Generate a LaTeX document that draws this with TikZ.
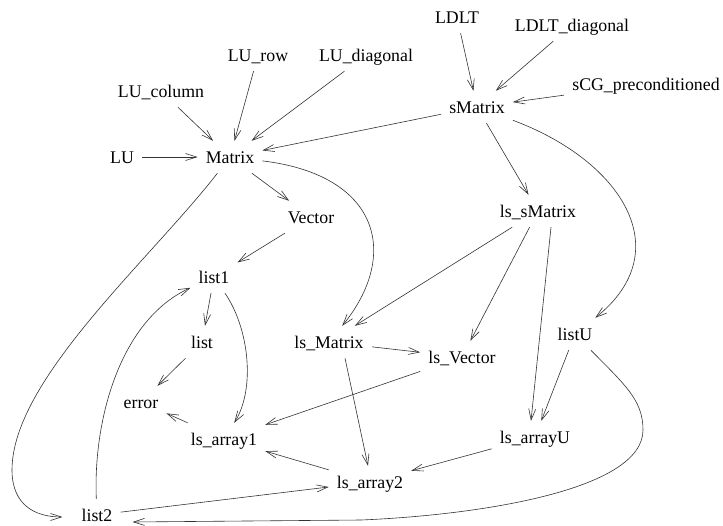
\documentclass[tikz,border=0pt]{standalone}
\usepackage{fontspec}
\setmainfont{Liberation Serif}
\usetikzlibrary{arrows.meta}
\begin{document}
\begin{tikzpicture}[x=1pt,y=-1pt,
  nd/.style={font=\fontsize{17.8}{20}\selectfont, inner xsep=8pt, inner ysep=10pt, text height=12pt, text depth=0pt},
  edge/.style={draw=black!80, line width=0.6pt, -{Straight Barb[length=11pt,width=7pt]}}]
\useasboundingbox (0,0) rectangle (723,525);
% nodes
\node[nd] (LDLT) at (457,17) {LDLT};
\node[nd] (LDLTd) at (572,25) {LDLT\_diagonal};
\node[nd] (LUrow) at (258,55) {LU\_row};
\node[nd] (LUdiag) at (366,55) {LU\_diagonal};
\node[nd] (sCG) at (646,84) {sCG\_preconditioned};
\node[nd] (LUcol) at (161,91) {LU\_column};
\node[nd] (sMatrix) at (477,107) {sMatrix};
\node[nd] (LU) at (122,157) {LU};
\node[nd] (Matrix) at (230,157) {Matrix};
\node[nd] (lssMatrix) at (538,211) {ls\_sMatrix};
\node[nd] (Vector) at (311,217) {Vector};
\node[nd] (list1) at (214,277) {list1};
\node[nd] (listU) at (575,334) {listU};
\node[nd] (list) at (202,342) {list};
\node[nd] (lsMatrix) at (329,342) {ls\_Matrix};
\node[nd] (lsVector) at (462,357) {ls\_Vector};
\node[nd] (error) at (141,402) {error};
\node[nd] (lsarrayU) at (535,437) {ls\_arrayU};
\node[nd] (lsarray1) at (224,439) {ls\_array1};
\node[nd] (lsarray2) at (370,482) {ls\_array2};
\node[nd] (list2) at (97,515) {list2};
% edges
\draw[edge] (LU) -- (Matrix);
\draw[edge] (LUcol) -- (Matrix);
\draw[edge] (LUrow) -- (Matrix);
\draw[edge] (LUdiag) -- (Matrix);
\draw[edge] (sMatrix) -- (Matrix);
\draw[edge] (LDLT) -- (sMatrix);
\draw[edge] (LDLTd) -- (sMatrix);
\draw[edge] (sCG) -- (sMatrix);
\draw[edge] (sMatrix) -- (lssMatrix);
\draw[edge] (sMatrix) .. controls (620,160) and (680,250) .. (listU);
\draw[edge] (Matrix) -- (Vector);
\draw[edge] (Matrix) .. controls (380,175) and (400,255) .. (lsMatrix);
\draw[edge] (Matrix) .. controls (150,260) and (12,380) .. (12,470)
   .. controls (12,505) and (35,517) .. ([xshift=-11pt,yshift=-2pt]list2.west);
\draw[edge] (Vector) -- (list1);
\draw[edge] (lssMatrix) -- (lsMatrix);
\draw[edge] (lssMatrix) -- (lsVector);
\draw[edge] ([xshift=13pt]lssMatrix.south) -- ([xshift=-4pt]lsarrayU.north);
\draw[edge] (listU) -- (lsarrayU);
\draw[edge] (listU) .. controls (625,385) and (643,400) .. (643,430)
   .. controls (643,490) and (480,515) .. (361,520) -- ([xshift=12pt,yshift=-7pt]list2.east);
\draw[edge] (list1) -- (list);
\draw[edge] (list1) .. controls (250,330) and (255,390) .. (lsarray1);
\draw[edge] (list) -- (error);
\draw[edge] (lsarray1) -- (error);
\draw[edge] (lsMatrix) -- (lsVector);
\draw[edge] ([xshift=16pt]lsMatrix.south) -- ([xshift=-2pt]lsarray2.north);
\draw[edge] (lsVector) -- (lsarray1);
\draw[edge] (lsarray2) -- (lsarray1);
\draw[edge] (lsarrayU) -- (lsarray2);
\draw[edge] (list2) -- (lsarray2);
\draw[edge] (list2) .. controls (93,420) and (120,320) .. (list1);
\end{tikzpicture}
\end{document}
